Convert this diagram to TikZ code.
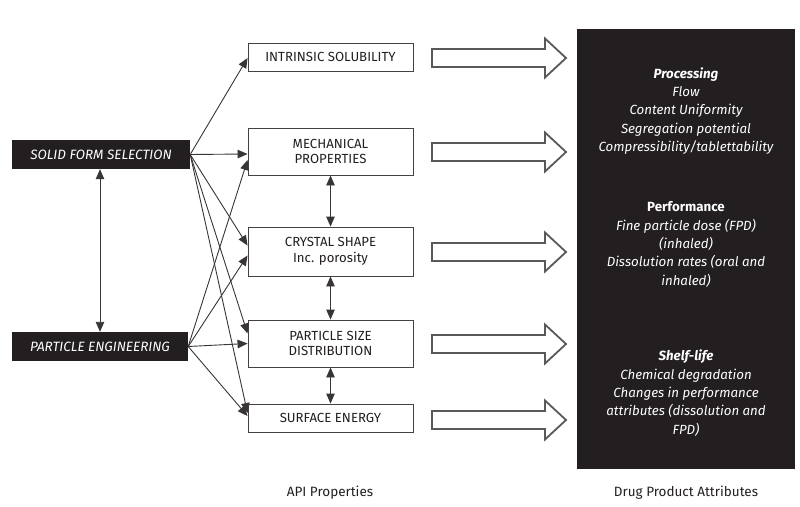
\documentclass[tikz,border=0pt]{standalone}
\usepackage{fontspec}
\setmainfont{Fira Sans}
\usetikzlibrary{arrows.meta,calc}
\definecolor{ink}{HTML}{231F20}
\begin{document}
\begin{tikzpicture}[x=1pt,y=-1pt,
  font=\fontsize{13.2}{15.5}\selectfont,
  midbox/.style={draw=ink!85, line width=0.9pt, minimum width=165pt, inner sep=0pt, align=center, text=ink},
  leftbox/.style={fill=ink, text=white, font=\fontsize{13.5}{15}\selectfont\itshape, inner sep=0pt},
  conn/.style={draw=ink!90, line width=0.9pt, -{Triangle[length=10pt,width=8.5pt]}},
  dconn/.style={draw=ink!90, line width=0.9pt, {Triangle[length=10pt,width=8.5pt]}-{Triangle[length=10pt,width=8.5pt]}},
  hollow/.style={draw=gray!70!black, line width=1.8pt, fill=white, line join=miter},
  attr/.style={text=white, align=center, font=\fontsize{13.3}{18.3}\selectfont},
  hollowarrow/.pic={\draw[hollow] (0,-9) -- (113,-9) -- (113,-19.5) -- (134,0) -- (113,19.5) -- (113,9) -- (0,9) -- cycle;}
]
\useasboundingbox (0,0) rectangle (800,506);

% left boxes
\node[leftbox, minimum width=178pt, minimum height=29pt] (sfs) at (101,154.5) {SOLID FORM SELECTION};
\node[leftbox, minimum width=176pt, minimum height=29pt] (pe) at (100,346.5) {PARTICLE ENGINEERING};

% middle boxes
\node[midbox, minimum height=28pt] (is) at (330.5,57) {INTRINSIC SOLUBILITY};
\node[midbox, minimum height=47pt] (mech) at (330.5,151.5) {MECHANICAL\\PROPERTIES};
\node[midbox, minimum height=49pt] (cs) at (330.5,251.5) {CRYSTAL SHAPE\\Inc. porosity};
\node[midbox, minimum height=47pt] (psd) at (330.5,343.5) {PARTICLE SIZE\\DISTRIBUTION};
\node[midbox, minimum height=28pt] (se) at (330.5,418) {SURFACE ENERGY};

% black attributes box
\node[fill=ink, minimum width=218pt, minimum height=440pt, inner sep=0pt] (dpa) at (686,249) {};
\node[attr] (proc) at (686,111) {\textbf{\itshape Processing}\\\itshape Flow\\\itshape Content Uniformity\\\itshape Segregation potential\\\itshape Compressibility/tablettability};
\node[attr] (perf) at (686,244.5) {\textbf{Performance}\\\itshape Fine particle dose (FPD)\\\itshape (inhaled)\\\itshape Dissolution rates (oral and\\\itshape inhaled)};
\node[attr] (shelf) at (686,393) {\textbf{\itshape Shelf-life}\\\itshape Chemical degradation\\\itshape Changes in performance\\\itshape attributes (dissolution and\\\itshape FPD)};

% hollow arrows
\pic at (432,58) {hollowarrow};
\pic at (432,152) {hollowarrow};
\pic at (432,252) {hollowarrow};
\pic at (432,344) {hollowarrow};
\pic at (432,420) {hollowarrow};

% connectors from SOLID FORM SELECTION
\draw[conn] (sfs.east) -- ($(is.west)+(0,1)$);
\draw[conn] (sfs.east) -- ($(mech.west)+(0,2.5)$);
\draw[conn] (sfs.east) -- ($(cs.west)+(0,-6)$);
\draw[conn] (sfs.east) -- ($(psd.west)+(0,-10)$);
\draw[conn] (sfs.east) -- ($(se.west)+(0,-5)$);
% connectors from PARTICLE ENGINEERING
\draw[conn] (pe.east) -- ($(mech.west)+(0,8.5)$);
\draw[conn] (pe.east) -- ($(cs.west)+(0,4)$);
\draw[conn] (pe.east) -- (psd.west);
\draw[conn] (pe.east) -- ($(se.west)+(0,-2)$);

% double arrows
\draw[dconn] (sfs.south -| pe.north) -- (pe.north);
\draw[dconn] (mech.south) -- (cs.north);
\draw[dconn] (cs.south) -- (psd.north);
\draw[dconn] (psd.south) -- (se.north);

% bottom labels
\node[text=ink, font=\fontsize{13.5}{15}\selectfont] (apil) at (330,493) {API Properties};
\node[text=ink, font=\fontsize{13.5}{15}\selectfont] (dpal) at (686,493) {Drug Product Attributes};
\end{tikzpicture}
\end{document}
